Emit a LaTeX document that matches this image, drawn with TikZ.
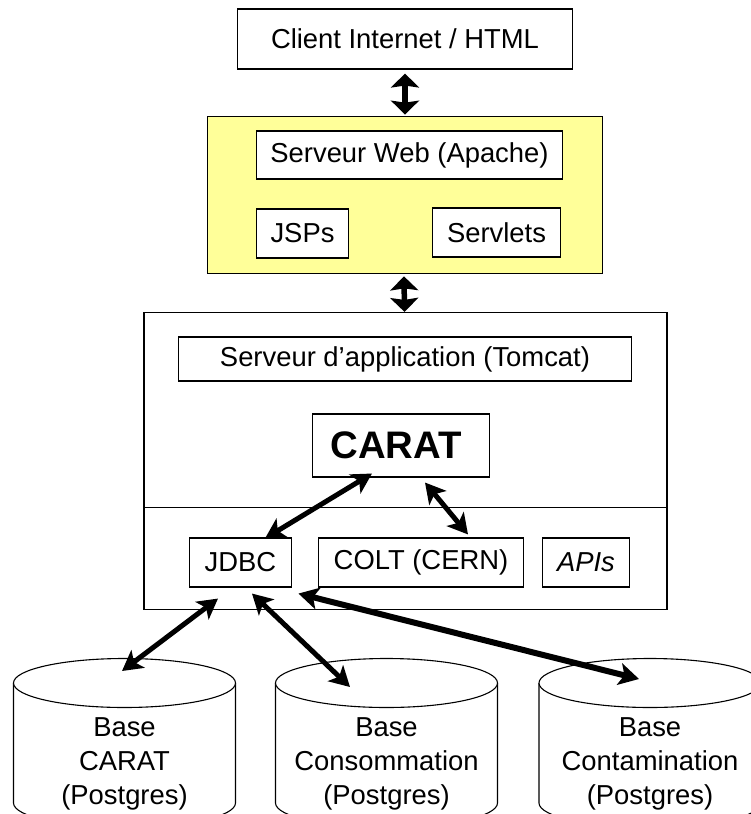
\documentclass[tikz,border=0pt]{standalone}
\usepackage{fontspec}
\setmainfont{Liberation Sans}
\usetikzlibrary{arrows.meta,calc}
\definecolor{lightyel}{HTML}{FFFF99}
\begin{document}
\begin{tikzpicture}[x=1bp,y=-1bp,
  box/.style={draw, line width=1.3bp, fill=white, inner sep=0pt,
    font=\fontsize{27.5}{32}\selectfont},
  dbtext/.style={align=center, inner sep=0pt, font=\fontsize{27.5}{34.5}\selectfont},
  dbl/.style={{Stealth[length=20bp,width=22bp,inset=5bp]}-{Stealth[length=20bp,width=22bp,inset=5bp]}, line width=5bp},
  vdbl/.style={{Stealth[length=14bp,width=28bp,inset=2bp]}-{Stealth[length=14bp,width=28bp,inset=2bp]}, line width=5.5bp},
  cylline/.style={line width=1.1bp}]
\useasboundingbox (0,0) rectangle (751,814);
\clip (0,0) rectangle (751,814);

% top client
\node[box, minimum width=336, minimum height=60] (client) at (405,39) {Client Internet / HTML};

% yellow web tier
\node[box, fill=lightyel, minimum width=396, minimum height=158] (web) at (405,195) {};
\node[box, minimum width=307, minimum height=48] (apache) at (409.5,155) {Serveur Web (Apache)};
\node[box, minimum width=93, minimum height=49] (jsps) at (302.5,233.5) {JSPs};
\node[box, minimum width=129, minimum height=49] (servlets) at (496.5,232.5) {Servlets};

% application server
\node[box, minimum width=525, minimum height=298] (outer) at (405.5,461) {};
\coordinate (divy) at (0,507);
\draw[line width=1bp] (outer.west |- divy) -- (outer.east |- divy);
\node[box, minimum width=454, minimum height=44] (tomcat) at (405,359) {Serveur d’application (Tomcat)};
\node[box, minimum width=178, minimum height=63, font=\fontsize{38.5}{44}\selectfont\bfseries] (carat) at (401,445.5) {CARAT\kern10bp};
\node[box, minimum width=103, minimum height=49] (jdbc) at (240.5,562.5) {JDBC};
\node[box, minimum width=206, minimum height=49] (colt) at (421,562.5) {COLT (CERN)};
\node[box, minimum width=88, minimum height=49, font=\fontsize{27.5}{32}\selectfont\itshape] (apis) at (586,562.5) {APIs};

% databases
\foreach \cx/\nm in {124.5/db1, 386.5/db2, 650/db3} {
  \fill[white] (\cx-111,683) -- (\cx-111,803) arc[start angle=180,end angle=0,x radius=111,y radius=24.5] -- (\cx+111,683) -- cycle;
  \draw[cylline] (\cx-111,683) -- (\cx-111,803) arc[start angle=180,end angle=0,x radius=111,y radius=24.5] -- (\cx+111,683);
  \draw[cylline, fill=white] (\cx,683) ellipse[x radius=111,y radius=24.5];
  \coordinate (\nm) at (\cx,683);
}
\node[dbtext] (t1) at (124.5,764) {Base\\CARAT\\(Postgres)};
\node[dbtext] (t2) at (386.5,764) {Base\\Consommation\\(Postgres)};
\node[dbtext] (t3) at (650,764) {Base\\Contamination\\(Postgres)};

% connectors
\draw[vdbl] ($(client.south)+(0,4)$) -- ($(web.north)+(0,-1)$);
\draw[vdbl] ($(web.south)+(-1,2)$) -- ($(outer.north)+(-1,0)$);
\draw[dbl] ($(carat.south)+(-29,-4)$) -- ($(jdbc.north)+(24.5,1)$);
\draw[dbl] ($(carat.south)+(24,5)$) -- ($(colt.north)+(47,-3)$);
\draw[dbl] ($(jdbc.south)+(-22.5,11)$) -- ($(db1)+(-2.5,-12)$);
\draw[dbl] ($(jdbc.south)+(11.5,6)$) -- ($(db2)+(-36.5,4)$);
\draw[dbl, line width=6bp] ($(jdbc.south east)+(6,6)$) -- ($(db3)+(-11,-4)$);
\end{tikzpicture}
\end{document}
